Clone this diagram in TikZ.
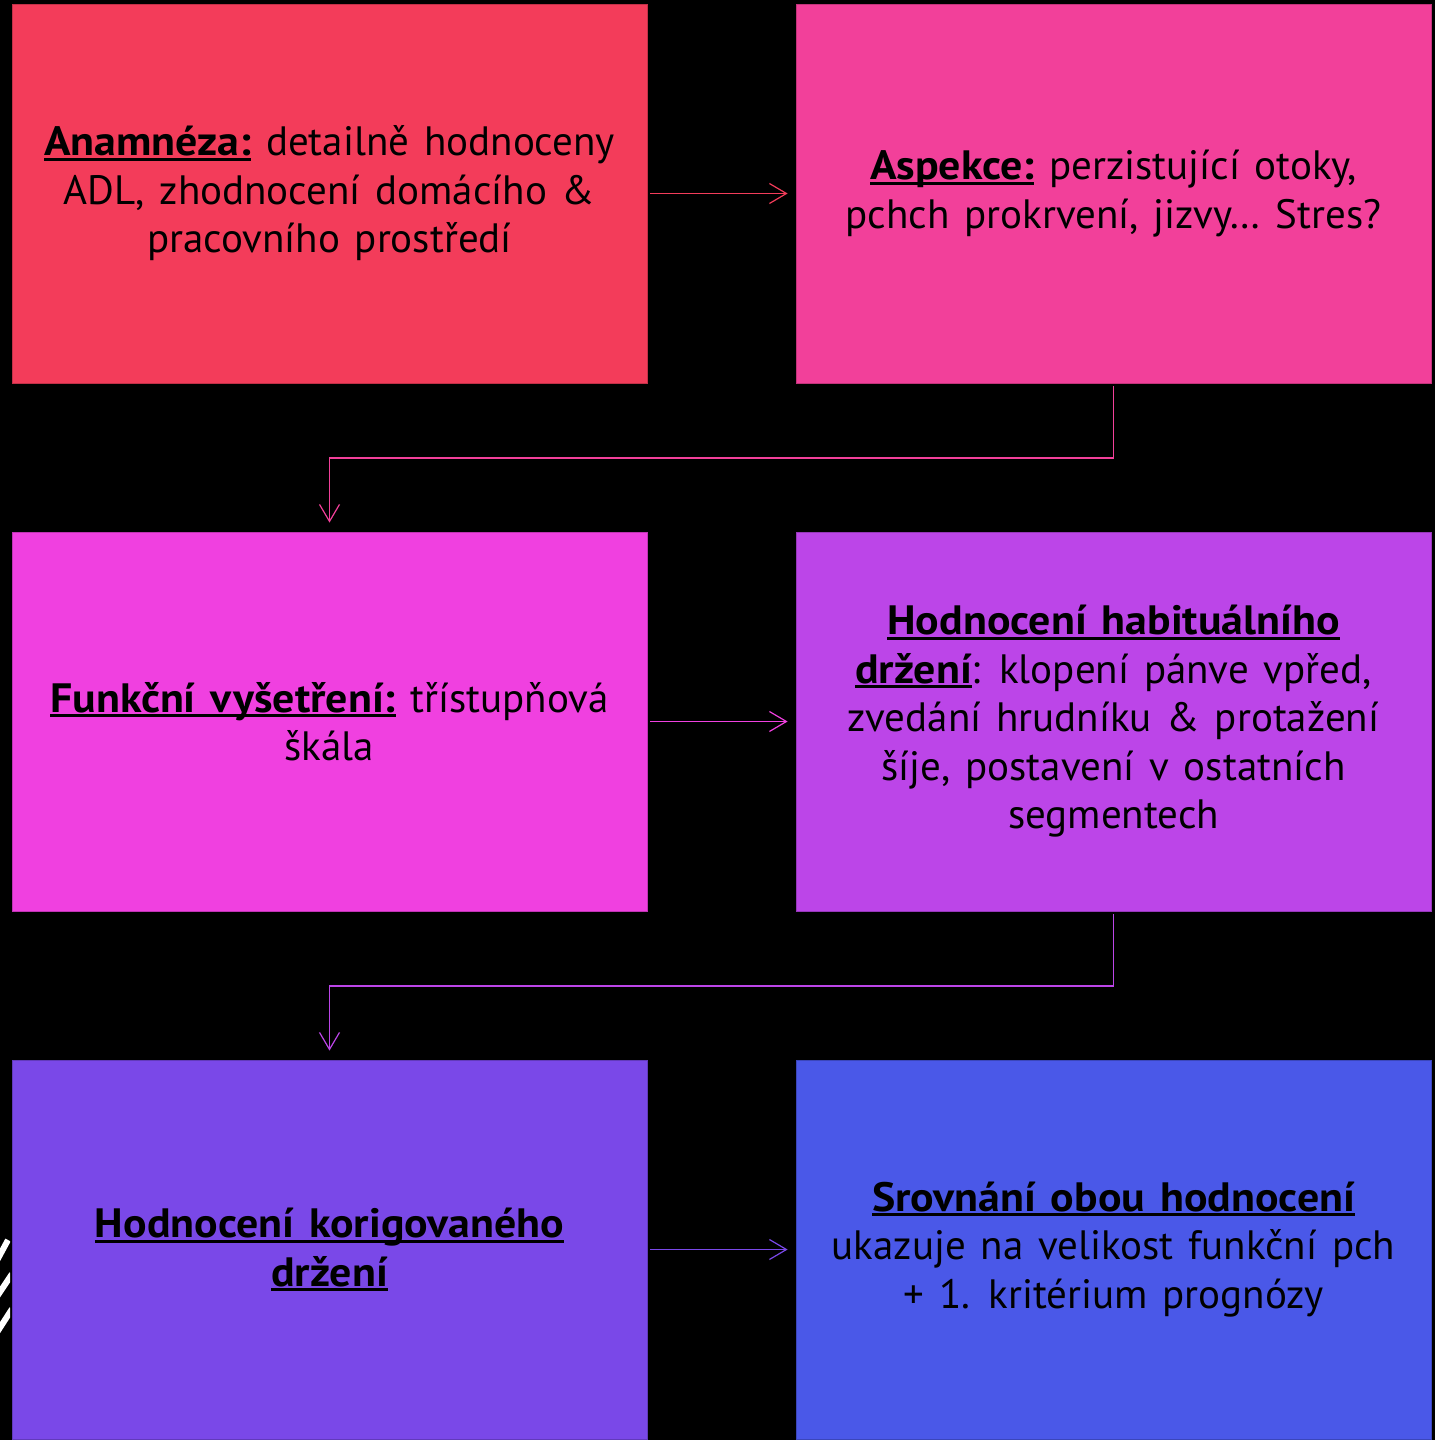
\documentclass[tikz,border=0pt]{standalone}
\usepackage{graphicx}
\usepackage{fontspec}
\setmainfont{PT Sans}[WordSpace=1.35]
\usetikzlibrary{arrows.meta}
\definecolor{cA}{RGB}{243,60,90}
\definecolor{cB}{RGB}{242,64,154}
\definecolor{cC}{RGB}{240,64,224}
\definecolor{cD}{RGB}{188,69,232}
\definecolor{cE}{RGB}{122,72,232}
\definecolor{cF}{RGB}{74,88,232}
\newsavebox\myulbox
\newcommand\myul[1]{\sbox\myulbox{\scalebox{1.07}[1]{#1}}\rlap{\rule[-5pt]{\wd\myulbox}{3pt}}\usebox\myulbox}
\tikzset{
  stepbox/.style={minimum width=635pt, minimum height=379pt, inner sep=0pt, align=center,
    draw=#1!80!black, line width=0.8pt, fill=#1, text=black,
    font=\fontsize{41}{48.5}\selectfont},
  arr/.style={draw=#1, line width=1.2pt, -{Straight Barb[length=17pt,width=20pt,line width=1.2pt]}}
}
\begin{document}
\begin{tikzpicture}[x=1pt,y=-1pt]
\fill[black] (0,0) rectangle (1435,1440);
\useasboundingbox (0,0) rectangle (1435,1440);
% decoration stripes at left edge
\begin{scope}
\clip (0,1200) rectangle (10,1400);
\draw[white, line width=6pt] (-6,1266) -- (8,1240);
\draw[white, line width=6pt] (-6,1301) -- (12,1274);
\draw[white, line width=6pt] (-6,1337) -- (12,1309);
\end{scope}
\node[stepbox=cA] (b1) at (329.5,193.5) {\myul{\textbf{Anamnéza:}} detailně hodnoceny\\ADL, zhodnocení domácího \&\\pracovního prostředí};
\node[stepbox=cB] (b2) at (1113.5,193.5) {\myul{\textbf{Aspekce:}} perzistující otoky,\\pchch prokrvení, jizvy… Stres?};
\node[stepbox=cC] (b3) at (329.5,721.5) {\myul{\textbf{Funkční vyšetření:}} třístupňová\\škála};
\node[stepbox=cD] (b4) at (1113.5,721.5) {\myul{\textbf{Hodnocení habituálního}}\\\myul{\textbf{držení}}: klopení pánve vpřed,\\zvedání hrudníku \& protažení\\šíje, postavení v ostatních\\segmentech};
\node[stepbox=cE] (b5) at (329.5,1249.5) {\myul{\textbf{Hodnocení korigovaného}}\\\myul{\textbf{držení}}};
\node[stepbox=cF] (b6) at (1113.5,1249.5) {\myul{\textbf{Srovnání obou hodnocení}}\\ukazuje na velikost funkční pch\\+ 1. kritérium prognózy};
\draw[arr=cA, shorten <=3pt, shorten >=8pt] (b1.east) -- (b2.west);
\draw[arr=cB, shorten <=3pt, shorten >=9pt] (b2.south) -- ++(0,74.5) -| (b3.north);
\draw[arr=cC, shorten <=3pt, shorten >=8pt] (b3.east) -- (b4.west);
\draw[arr=cD, shorten <=3pt, shorten >=9pt] (b4.south) -- ++(0,74.5) -| (b5.north);
\draw[arr=cE, shorten <=3pt, shorten >=8pt] (b5.east) -- (b6.west);
\end{tikzpicture}
\end{document}
